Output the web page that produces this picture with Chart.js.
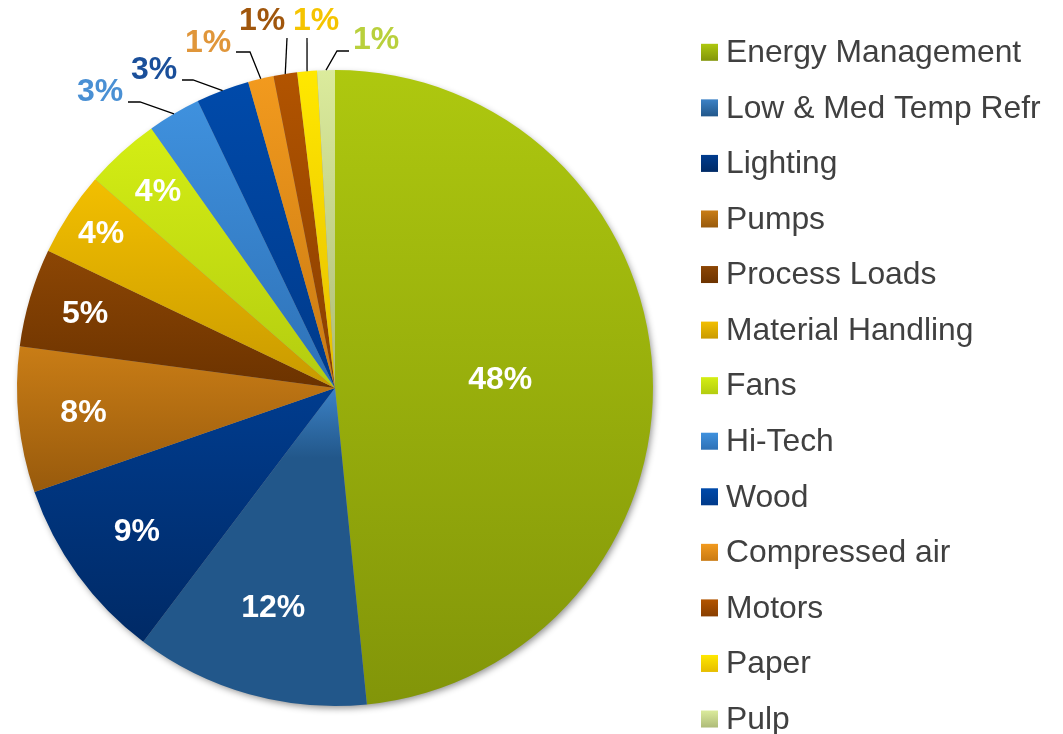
<!DOCTYPE html>
<html>
<head>
<meta charset="utf-8">
<script src="https://cdn.jsdelivr.net/npm/chart.js@4"></script>
<style>
  html, body { margin: 0; padding: 0; background: #fff; }
  #wrap { width: 1063px; height: 734px; position: relative; }
</style>
</head>
<body>
<div id="wrap"><canvas id="pieChart" width="1063" height="734"></canvas></div>
<script>
// chart data
const categories = ['Energy Management', 'Low & Med Temp Refr', 'Lighting', 'Pumps', 'Process Loads',
  'Material Handling', 'Fans', 'Hi-Tech', 'Wood', 'Compressed air', 'Motors', 'Paper', 'Pulp'];
const shares = [48.4, 11.9, 9.4, 7.4, 5.0, 4.3, 3.8, 2.7, 2.7, 1.3, 1.2, 1.0, 0.9];
const shareLabels = ['48%', '12%', '9%', '8%', '5%', '4%', '4%', '3%', '3%', '1%', '1%', '1%', '1%'];

// slice colours, gradient top -> bottom
const topColors = ['#aec80f', '#3c82c6', '#003c8e', '#c97d16', '#8c4604', '#f2bf00', '#d4ee14',
  '#3f91de', '#004aaa', '#f29a1e', '#b25400', '#ffe800', '#dbeb9c'];
const bottomColors = ['#829509', '#22578a', '#002a66', '#985a0c', '#6c3300', '#c99a00', '#b3cc10',
  '#2e71b6', '#003a8a', '#c97a12', '#883e00', '#e6bd00', '#aebb78'];

// label layout: inside labels sit at a fraction of the radius, outside ones get leader lines
const insideFrac = [0.52, 0.72, 0.77, 0.795, 0.82, 0.88, 0.83, null, null, null, null, null, null];
const outsideColors = { 7: '#4a90d4', 8: '#1a4f9a', 9: '#e0963a', 10: '#a0560c', 11: '#f5c400', 12: '#b9d03c' };
// text centre, elbow, line end (relative to pie centre)
const outsideLayout = {
  7:  { text: [-235, -297], elbow: [-195, -286], end: [-207, -286] },
  8:  { text: [-181, -319], elbow: [-142, -308], end: [-153, -308] },
  9:  { text: [-127, -346], elbow: [-85, -336], end: [-99, -336] },
  10: { text: [-73, -368], elbow: [-48, -350], end: [-48, -350] },
  11: { text: [-19, -368], elbow: [-28, -350], end: [-28, -350] },
  12: { text: [41, -349], elbow: [2, -337], end: [14, -337] }
};

const FONT = "'Liberation Sans', Arial, sans-serif";

function vGrad(ctx, y0, y1, c0, c1) {
  const g = ctx.createLinearGradient(0, y0, 0, y1);
  g.addColorStop(0, c0);
  g.addColorStop(1, c1);
  return g;
}

// per slice vertical gradient + soft shadow under the pie
const gradientPlugin = {
  id: 'gradientFill',
  beforeDatasetsDraw(chart) {
    const ctx = chart.ctx;
    const meta = chart.getDatasetMeta(0);
    const first = meta.data[0];
    ctx.save();
    ctx.beginPath();
    ctx.arc(first.x, first.y, first.outerRadius - 1, 0, Math.PI * 2);
    ctx.shadowColor = 'rgba(0,0,0,0.45)';
    ctx.shadowBlur = 7;
    ctx.shadowOffsetX = 2;
    ctx.shadowOffsetY = 3;
    ctx.fillStyle = '#999';
    ctx.fill();
    ctx.restore();

    meta.data.forEach((arc, i) => {
      const { x, y, startAngle, endAngle, outerRadius } = arc.getProps(['x', 'y', 'startAngle', 'endAngle', 'outerRadius']);
      let ys = [y, y + outerRadius * Math.sin(startAngle), y + outerRadius * Math.sin(endAngle)];
      [-Math.PI / 2, Math.PI / 2, 3 * Math.PI / 2].forEach(a => {
        if (a >= startAngle && a <= endAngle) ys.push(y + outerRadius * Math.sin(a));
      });
      const y0 = Math.min(...ys), y1 = Math.max(...ys);
      let g;
      if (i === 1) {
        g = ctx.createLinearGradient(0, y0, 0, y1);
        g.addColorStop(0, topColors[i]);
        g.addColorStop(0.22, bottomColors[i]);
        g.addColorStop(1, bottomColors[i]);
      } else {
        g = vGrad(ctx, y0, y1, topColors[i], bottomColors[i]);
      }
      arc.options = Object.assign({}, arc.options, { backgroundColor: g, borderColor: g });
    });
  },
  afterDatasetsDraw(chart) {
    const ctx = chart.ctx;
    const meta = chart.getDatasetMeta(0);
    ctx.save();
    ctx.font = 'bold 32px ' + FONT;
    ctx.textAlign = 'center';
    ctx.textBaseline = 'middle';
    meta.data.forEach((arc, i) => {
      const { x, y, startAngle, endAngle, outerRadius } = arc.getProps(['x', 'y', 'startAngle', 'endAngle', 'outerRadius']);
      const mid = (startAngle + endAngle) / 2;
      if (insideFrac[i] !== null) {
        const r = outerRadius * insideFrac[i];
        ctx.fillStyle = '#ffffff';
        ctx.fillText(shareLabels[i], x + r * Math.cos(mid), y + r * Math.sin(mid));
      } else {
        const lay = outsideLayout[i];
        ctx.strokeStyle = '#000';
        ctx.lineWidth = 1.3;
        ctx.beginPath();
        ctx.moveTo(x + outerRadius * Math.cos(mid), y + outerRadius * Math.sin(mid));
        ctx.lineTo(x + lay.elbow[0], y + lay.elbow[1]);
        ctx.lineTo(x + lay.end[0], y + lay.end[1]);
        ctx.stroke();
        ctx.fillStyle = outsideColors[i];
        ctx.fillText(shareLabels[i], x + lay.text[0], y + lay.text[1] + 1);
      }
    });
    ctx.restore();
  },
  afterDraw(chart) {
    // legend on the right
    const ctx = chart.ctx;
    ctx.save();
    ctx.font = '31.8px ' + FONT;
    ctx.textBaseline = 'middle';
    ctx.textAlign = 'left';
    categories.forEach((name, i) => {
      const cy = 52.3 + i * 55.56;
      ctx.fillStyle = vGrad(ctx, cy - 8.5, cy + 8.5, topColors[i], bottomColors[i]);
      ctx.fillRect(701, cy - 8.5, 17, 17);
      ctx.fillStyle = '#404040';
      ctx.fillText(name, 726, cy + 1);
    });
    ctx.restore();
  }
};

new Chart(document.getElementById('pieChart'), {
  type: 'pie',
  data: {
    labels: categories,
    datasets: [{
      data: shares,
      backgroundColor: topColors,
      borderWidth: 0
    }]
  },
  options: {
    responsive: false,
    animation: false,
    layout: { padding: { left: 17, right: 410, top: 70, bottom: 28 } },
    plugins: {
      legend: { display: false },
      tooltip: { enabled: false }
    }
  },
  plugins: [gradientPlugin]
});
</script>
</body>
</html>
